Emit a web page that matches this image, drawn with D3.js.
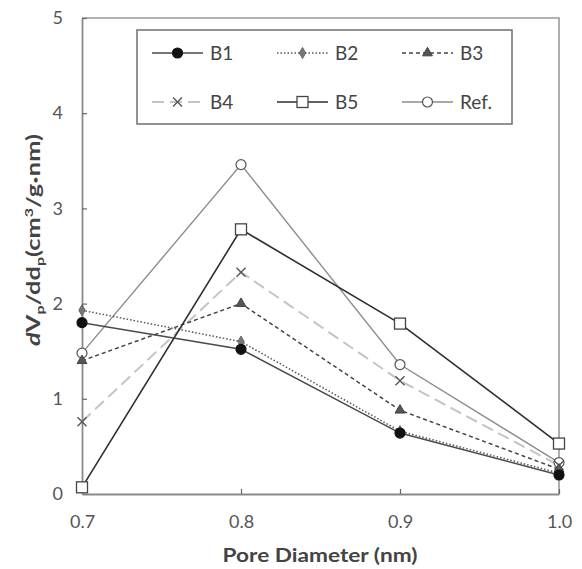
<!DOCTYPE html>
<html><head><meta charset="utf-8">
<script src="https://cdn.jsdelivr.net/npm/d3@7"></script>
<style>body{margin:0;background:#fff;} svg{display:block;font-family:Lato,"Open Sans",sans-serif;}</style>
</head><body>
<svg id="c" width="582" height="569"></svg>
<script>
const poreDiameters = [0.7, 0.8, 0.9, 1.0];
const xTicks = [0.7, 0.8, 0.9, 1.0];
const yTicks = [0, 1, 2, 3, 4, 5];
const seriesNames = ["B1", "B2", "B3", "B4", "B5", "Ref."];
const B1 = [1.80, 1.52, 0.64, 0.20];
const B2 = [1.93, 1.60, 0.66, 0.22];
const B3 = [1.40, 2.00, 0.88, 0.26];
const B4 = [0.76, 2.33, 1.19, 0.30];
const B5 = [0.07, 2.78, 1.79, 0.53];
const Ref = [1.48, 3.46, 1.36, 0.33];

const styles = {
  "B1": {stroke:"#4a4a4a", dash:null, width:1.5, marker:"circle", fill:"#111", mstroke:"#111"},
  "B2": {stroke:"#555", dash:"1.5,2", width:1.5, marker:"diamond", fill:"#777", mstroke:"#666"},
  "B3": {stroke:"#444", dash:"4,3", width:1.5, marker:"triangle", fill:"#555", mstroke:"#444"},
  "B4": {stroke:"#c4c4c4", dash:"12,6", width:2, marker:"cross", fill:"none", mstroke:"#555"},
  "B5": {stroke:"#2e2e2e", dash:null, width:1.6, marker:"square", fill:"#fff", mstroke:"#444"},
  "Ref.": {stroke:"#8c8c8c", dash:null, width:1.4, marker:"circle", fill:"#fff", mstroke:"#555"}
};
const seriesData = {"B1":B1,"B2":B2,"B3":B3,"B4":B4,"B5":B5,"Ref.":Ref};

const svg = d3.select("#c");
const x = d3.scaleLinear().domain([0.7, 1.0]).range([82, 559]);
const y = d3.scaleLinear().domain([0, 5]).range([494, 18]);

// frame (top/right)
svg.append("path").attr("d",`M${x(0.7)},${y(5)}H${x(1.0)}V${y(0)}`)
  .attr("fill","none").attr("stroke","#9a9a9a").attr("stroke-width",1.6);

// axes
const xAxis = d3.axisBottom(x).tickValues(xTicks).tickFormat(d3.format(".1f")).tickSizeInner(-5).tickSizeOuter(0).tickPadding(21);
const gx = svg.append("g").attr("transform",`translate(0,${y(0)})`).call(xAxis);
const yAxis = d3.axisLeft(y).tickValues(yTicks).tickFormat(d3.format("d")).tickSizeInner(-5).tickSizeOuter(0).tickPadding(19);
const gy = svg.append("g").attr("transform",`translate(${x(0.7)},0)`).call(yAxis);
[gx,gy].forEach(g=>{
  g.select(".domain").attr("stroke","#8a8a8a").attr("stroke-width",1.8);
  g.selectAll(".tick line").attr("stroke","#666").attr("stroke-width",1.2);
  g.selectAll(".tick text").attr("fill","#555").style("font-size","18px").style("font-family","Lato,sans-serif");
});
gy.selectAll(".tick line").filter(d=>d===0).remove();

function drawMarker(g, type, cx, cy, st){
  if(type==="circle"){
    g.append("circle").attr("cx",cx).attr("cy",cy).attr("r",5).attr("fill",st.fill).attr("stroke",st.mstroke).attr("stroke-width",1.2);
  } else if(type==="diamond"){
    g.append("path").attr("d",d3.symbol(d3.symbolDiamond,36)()).attr("transform",`translate(${cx},${cy})`).attr("fill",st.fill).attr("stroke",st.mstroke).attr("stroke-width",1);
  } else if(type==="triangle"){
    g.append("path").attr("d",d3.symbol(d3.symbolTriangle,42)()).attr("transform",`translate(${cx},${cy})`).attr("fill",st.fill).attr("stroke",st.mstroke).attr("stroke-width",1);
  } else if(type==="square"){
    g.append("rect").attr("x",cx-5.5).attr("y",cy-5.5).attr("width",11).attr("height",11).attr("fill",st.fill).attr("stroke",st.mstroke).attr("stroke-width",1.3);
  } else if(type==="cross"){
    g.append("path").attr("d",`M${cx-4.5},${cy-4.5}L${cx+4.5},${cy+4.5}M${cx-4.5},${cy+4.5}L${cx+4.5},${cy-4.5}`).attr("stroke",st.mstroke).attr("stroke-width",1.4);
  }
}

const line = d3.line().x((d,i)=>x(poreDiameters[i])).y(d=>y(d));
const order = ["Ref.","B4","B3","B2","B1","B5"];
order.forEach(name=>{
  const st = styles[name];
  svg.append("path").datum(seriesData[name]).attr("d",line).attr("fill","none")
    .attr("stroke",st.stroke).attr("stroke-width",st.width).attr("stroke-dasharray",st.dash);
});
order.forEach(name=>{
  const st = styles[name];
  const g = svg.append("g");
  seriesData[name].forEach((v,i)=>drawMarker(g, st.marker, x(poreDiameters[i]), y(v), st));
});

// legend
const lg = svg.append("g");
lg.append("rect").attr("x",137).attr("y",30).attr("width",375).attr("height",94).attr("fill","#fff").attr("stroke","#777").attr("stroke-width",1.6);
const colX = [152, 277, 402];
const rowY = [53, 102];
seriesNames.forEach((name,i)=>{
  const st = styles[name];
  const cx0 = colX[i%3], cy0 = rowY[Math.floor(i/3)];
  lg.append("line").attr("x1",cx0).attr("x2",cx0+51).attr("y1",cy0).attr("y2",cy0)
    .attr("stroke",st.stroke).attr("stroke-width",st.width).attr("stroke-dasharray",st.dash);
  drawMarker(lg, st.marker, cx0+25.5, cy0, st);
  lg.append("text").attr("x",cx0+58).attr("y",cy0+7).text(name).attr("fill","#444").style("font-size","19px");
});

// axis titles (stretched horizontally to match the reference's wide lettering)
const xt = svg.append("text").attr("text-anchor","middle").attr("fill","#444")
  .style("font-size","18px").style("font-weight","bold").text("Pore Diameter (nm)");
const xw = xt.node().getBBox().width;
xt.attr("transform",`translate(320,562) scale(${195/xw},1)`);

const yt = svg.append("text").attr("text-anchor","middle")
  .attr("fill","#444").style("font-size","19px").style("font-weight","bold");
yt.append("tspan").style("font-style","italic").text("d");
yt.append("tspan").text("V");
yt.append("tspan").attr("dy",4).style("font-size","12px").text("p");
yt.append("tspan").attr("dy",-4).text("/dd");
yt.append("tspan").attr("dy",4).style("font-size","12px").text("p");
yt.append("tspan").attr("dy",-4).text("(cm");
yt.append("tspan").attr("dy",-7).style("font-size","12px").text("3");
yt.append("tspan").attr("dy",7).text("/g");
yt.append("tspan").attr("dy",-1).style("font-size","10px").style("font-weight","normal").text("\u2022");
yt.append("tspan").attr("dy",1).text("nm)");
const yw = yt.node().getBBox().width;
yt.attr("transform",`translate(40,240) rotate(-90) scale(${212/yw},1)`);
</script>
</body></html>
